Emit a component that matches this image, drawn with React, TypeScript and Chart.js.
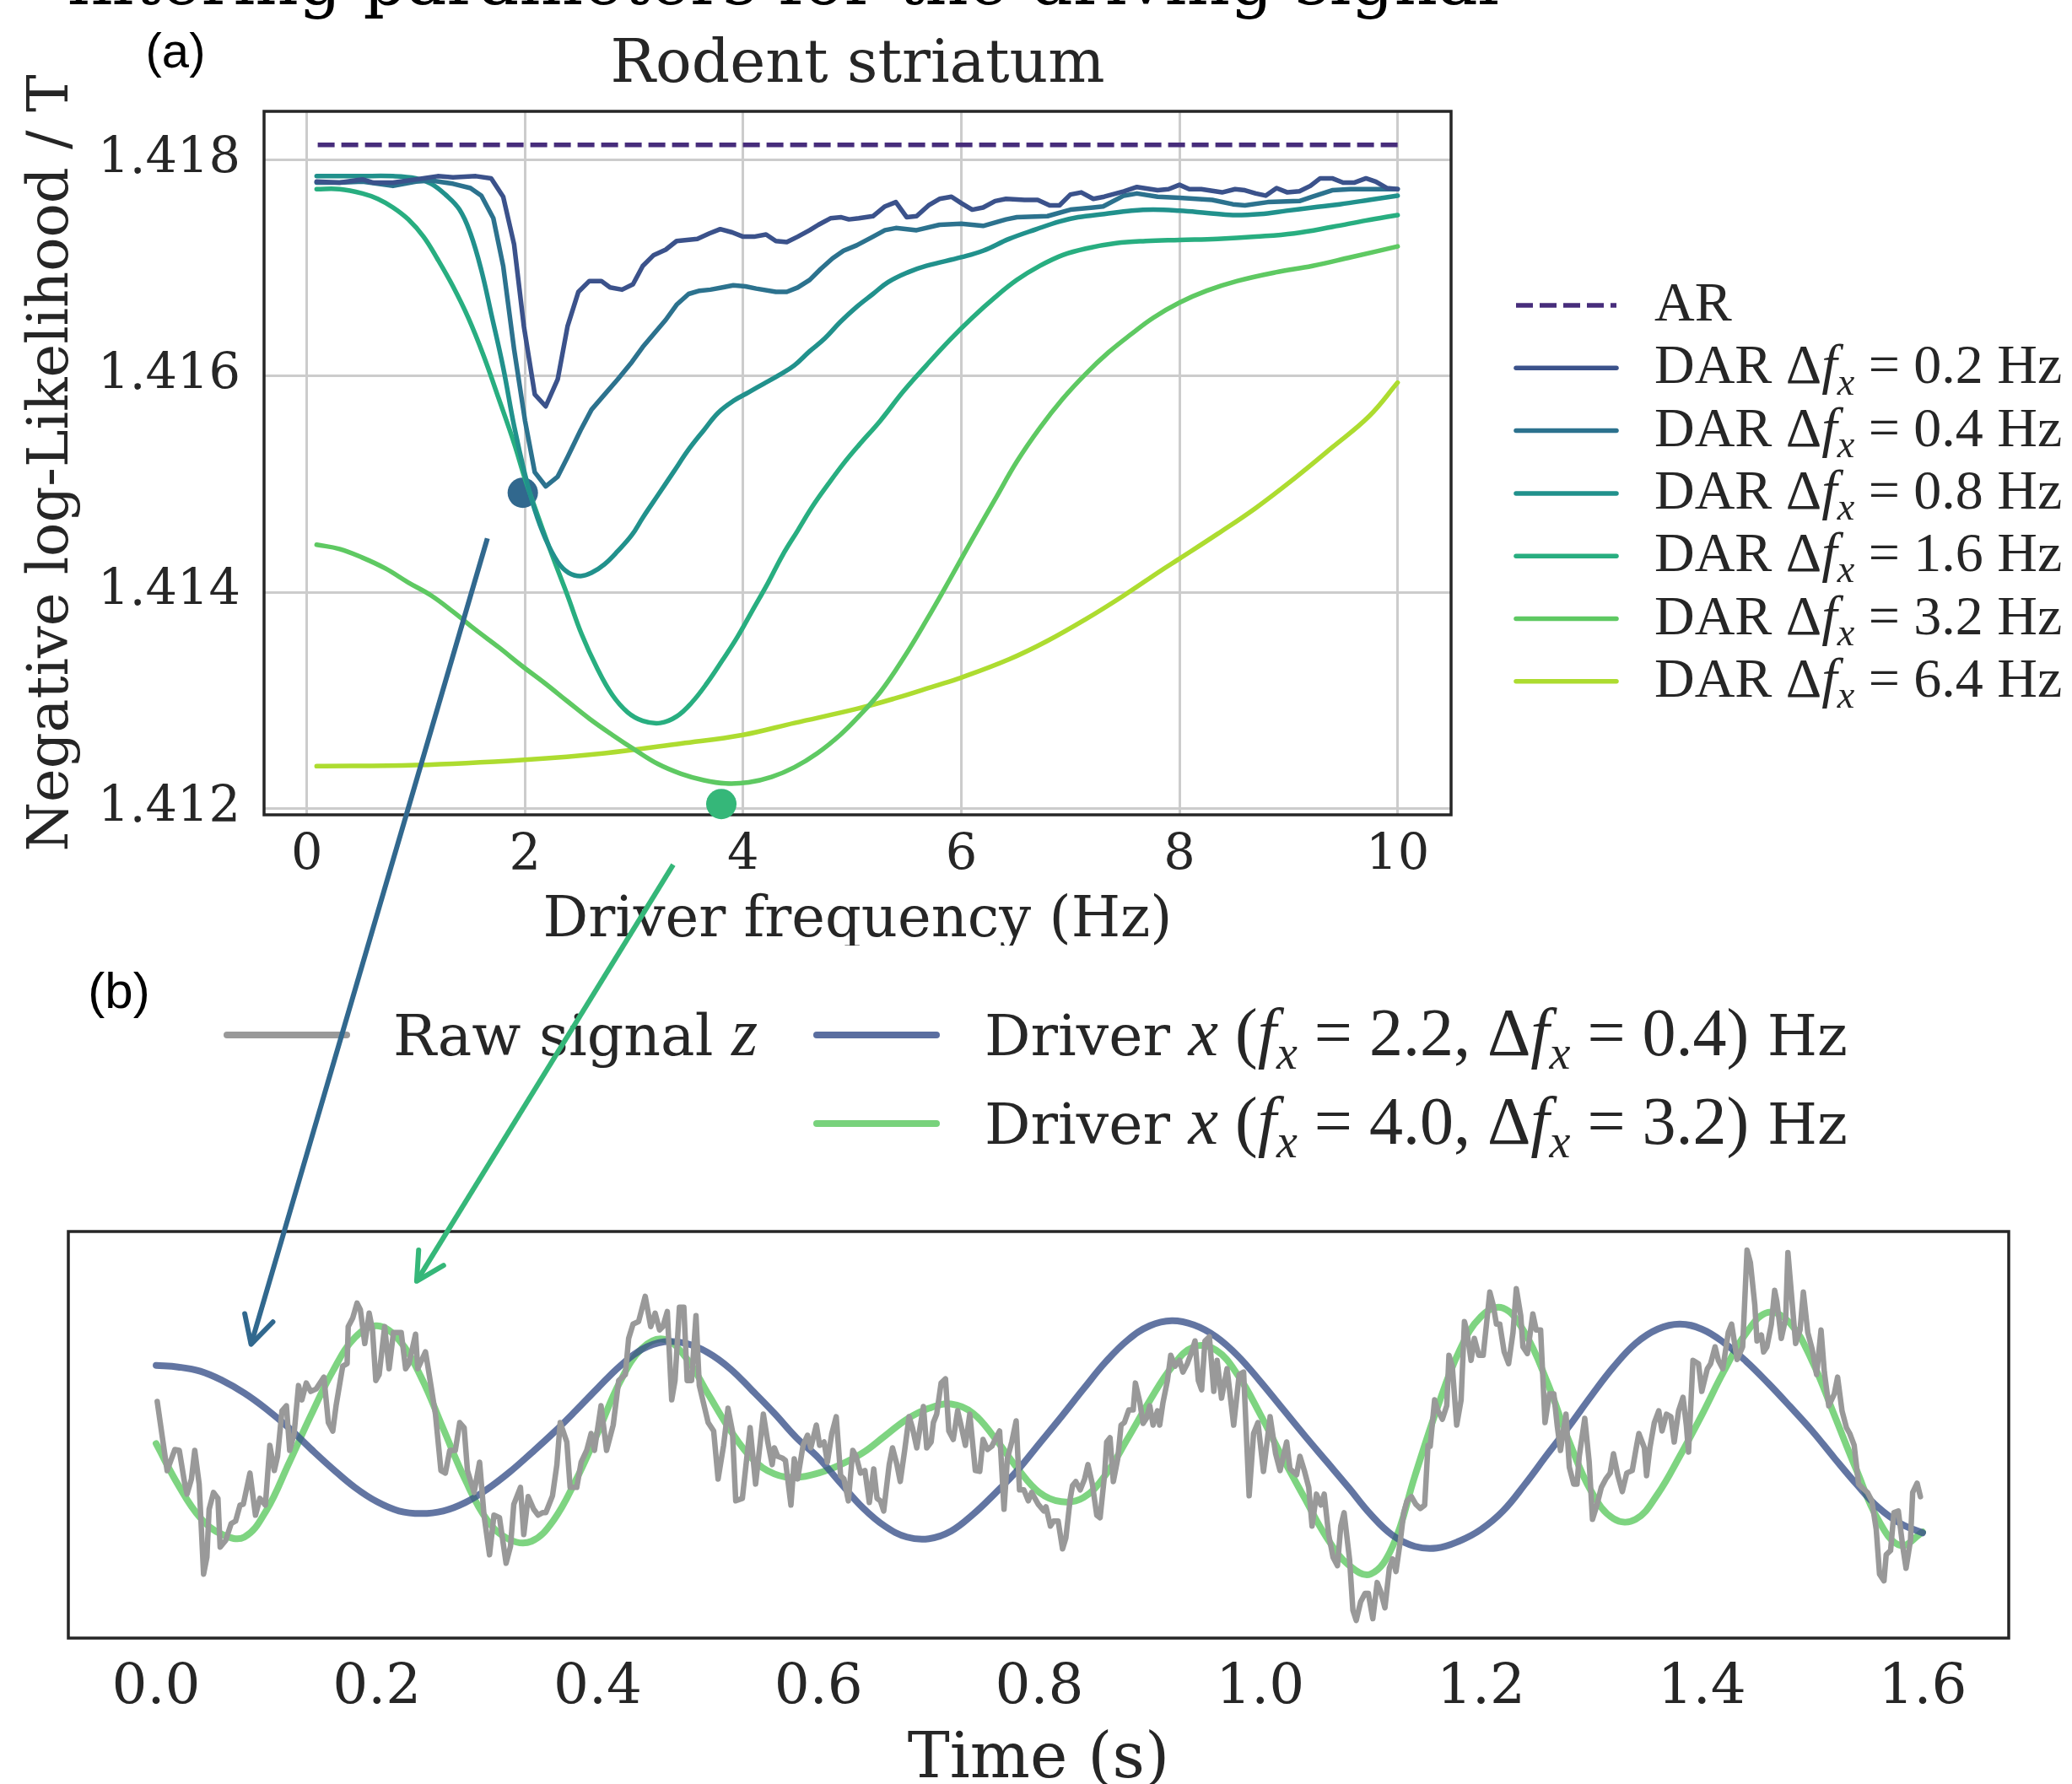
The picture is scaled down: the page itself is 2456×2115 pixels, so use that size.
import React, { useEffect, useRef } from "react";
import { Chart, registerables } from "chart.js";

Chart.register(...registerables);

const PAGE_W = 2456;
const PAGE_H = 2115;

// ---------- texts ----------
const figureHeading = "filtering parameters for the driving signal";
const panelATitle = "Rodent striatum";
const panelAXLabel = "Driver frequency (Hz)";
const panelAYLabel = "Negative log-Likelihood / T";
const panelBXLabel = "Time (s)";
const rawLabel = "Raw signal";

// ---------- panel (a) data ----------
const arNll = 1.41814;
const freqSpan = [0.1, 10];
const bandwidths = [0.2, 0.4, 0.8, 1.6, 3.2, 6.4];
const arColor = "#472d7b";
const darColors = ["#3b528b", "#2c728e", "#21918c", "#28ae80", "#5ec962", "#addc30"];
const aXTicks = [0, 2, 4, 6, 8, 10];
const aYTicks = [1.412, 1.414, 1.416, 1.418];

const dar02: [number, number][] = [
  [0.09, 1.4178], [0.3, 1.41779], [0.51, 1.41782], [0.61, 1.41779], [0.79, 1.41779], [1.0, 1.41782],
  [1.2, 1.41785], [1.34, 1.41784], [1.55, 1.41785], [1.69, 1.41783], [1.8, 1.41766], [1.9, 1.41722],
  [1.99, 1.41646], [2.09, 1.41583], [2.19, 1.41572], [2.3, 1.41597], [2.39, 1.41646], [2.49, 1.41678],
  [2.59, 1.41688], [2.7, 1.41688], [2.78, 1.41682], [2.89, 1.4168], [2.99, 1.41685], [3.08, 1.41702],
  [3.18, 1.41712], [3.29, 1.41717], [3.39, 1.41725], [3.58, 1.41727], [3.69, 1.41732], [3.79, 1.41736],
  [3.9, 1.41733], [4.0, 1.41729], [4.1, 1.41729], [4.21, 1.41731], [4.3, 1.41725], [4.4, 1.41724],
  [4.5, 1.41729], [4.61, 1.41735], [4.69, 1.4174], [4.8, 1.41746], [4.9, 1.41747], [4.97, 1.41745],
  [5.06, 1.41746], [5.19, 1.41748], [5.3, 1.41757], [5.4, 1.41761], [5.5, 1.41747], [5.59, 1.41748],
  [5.7, 1.41758], [5.8, 1.41764], [5.91, 1.41766], [6.0, 1.4176], [6.1, 1.41754], [6.2, 1.41756],
  [6.31, 1.41762], [6.41, 1.41764], [6.58, 1.41763], [6.7, 1.41763], [6.81, 1.41758], [6.9, 1.41758],
  [7.0, 1.41768], [7.1, 1.4177], [7.21, 1.41764], [7.31, 1.41766], [7.49, 1.41771], [7.61, 1.41775],
  [7.8, 1.41772], [7.9, 1.41773], [8.0, 1.41777], [8.09, 1.41773], [8.2, 1.41773], [8.39, 1.4177],
  [8.51, 1.41773], [8.6, 1.41772], [8.7, 1.41769], [8.79, 1.41767], [8.89, 1.41774], [8.99, 1.4177],
  [9.1, 1.41771], [9.2, 1.41776], [9.29, 1.41783], [9.4, 1.41783], [9.5, 1.41779], [9.6, 1.41779],
  [9.71, 1.41783], [9.8, 1.4178], [9.9, 1.41774], [10.0, 1.41773],
];
const dar04: [number, number][] = [
  [0.09, 1.41779], [0.3, 1.41779], [0.51, 1.4178], [0.79, 1.41776], [1.0, 1.4178], [1.14, 1.41781],
  [1.34, 1.41778], [1.5, 1.41774], [1.6, 1.41767], [1.71, 1.41746], [1.8, 1.41702], [1.9, 1.41625],
  [2.0, 1.41559], [2.09, 1.41511], [2.19, 1.41498], [2.3, 1.41507], [2.39, 1.41525], [2.51, 1.4155],
  [2.61, 1.41569], [2.73, 1.41583], [2.85, 1.41597], [2.98, 1.41613], [3.08, 1.41627], [3.18, 1.41639],
  [3.29, 1.41652], [3.39, 1.41666], [3.5, 1.41676], [3.6, 1.41679], [3.7, 1.4168], [3.81, 1.41682],
  [3.91, 1.41684], [4.02, 1.41683], [4.12, 1.41681], [4.3, 1.41678], [4.4, 1.41678], [4.5, 1.41682],
  [4.61, 1.41689], [4.71, 1.41699], [4.82, 1.41709], [4.92, 1.41716], [5.04, 1.41721], [5.19, 1.41729],
  [5.3, 1.41735], [5.4, 1.41737], [5.59, 1.41735], [5.8, 1.4174], [6.0, 1.41741], [6.2, 1.41739],
  [6.41, 1.41745], [6.51, 1.41747], [6.79, 1.41748], [7.0, 1.41754], [7.21, 1.41756], [7.3, 1.41757],
  [7.49, 1.41767], [7.61, 1.41769], [7.8, 1.41766], [8.0, 1.41765], [8.3, 1.41763], [8.49, 1.41759],
  [8.6, 1.41758], [8.81, 1.41761], [9.1, 1.41762], [9.22, 1.41766], [9.4, 1.41772], [9.57, 1.41773],
  [9.78, 1.41773], [10.0, 1.41773],
];
const dar08: [number, number][] = [
  [0.09, 1.41785], [0.48, 1.41785], [0.79, 1.41785], [1.0, 1.41783], [1.14, 1.41778], [1.27, 1.41768],
  [1.4, 1.41754], [1.5, 1.41732], [1.6, 1.41698], [1.69, 1.41658], [1.8, 1.41608], [1.9, 1.41554],
  [2.0, 1.41509], [2.09, 1.41476], [2.19, 1.41449], [2.3, 1.41428], [2.4, 1.41418], [2.51, 1.41415],
  [2.61, 1.41418], [2.73, 1.41426], [2.85, 1.41438], [2.98, 1.41453], [3.08, 1.41469], [3.22, 1.4149],
  [3.36, 1.41511], [3.5, 1.41532], [3.64, 1.4155], [3.77, 1.41566], [3.91, 1.41577], [4.05, 1.41585],
  [4.19, 1.41593], [4.33, 1.41601], [4.47, 1.4161], [4.61, 1.41623], [4.75, 1.41635], [4.89, 1.4165],
  [5.04, 1.41664], [5.19, 1.41676], [5.33, 1.41687], [5.51, 1.41696], [5.68, 1.41702], [6.0, 1.4171],
  [6.2, 1.41716], [6.44, 1.41727], [6.69, 1.41736], [6.9, 1.41743], [7.07, 1.41747], [7.31, 1.4175],
  [7.56, 1.41753], [7.76, 1.41754], [8.0, 1.41753], [8.25, 1.41751], [8.49, 1.41749], [8.74, 1.4175],
  [8.98, 1.41753], [9.22, 1.41756], [9.47, 1.41759], [9.74, 1.41763], [10.0, 1.41767],
];
const dar16: [number, number][] = [
  [0.09, 1.41773], [0.3, 1.41773], [0.51, 1.41769], [0.65, 1.41764], [0.79, 1.41756], [0.93, 1.41745],
  [1.07, 1.41729], [1.2, 1.41708], [1.34, 1.41683], [1.48, 1.41654], [1.62, 1.41619], [1.76, 1.41579],
  [1.9, 1.41538], [2.0, 1.41505], [2.11, 1.41473], [2.25, 1.41434], [2.39, 1.41397], [2.52, 1.41361],
  [2.66, 1.4133], [2.8, 1.41305], [2.94, 1.41289], [3.08, 1.41281], [3.24, 1.41279], [3.39, 1.41285],
  [3.53, 1.41298], [3.67, 1.41316], [3.81, 1.41337], [3.95, 1.41359], [4.09, 1.41384], [4.23, 1.41409],
  [4.36, 1.41434], [4.5, 1.41457], [4.64, 1.4148], [4.78, 1.415], [4.92, 1.41519], [5.06, 1.41536],
  [5.26, 1.41559], [5.47, 1.41586], [5.68, 1.4161], [5.89, 1.41633], [6.1, 1.41654], [6.31, 1.41673],
  [6.51, 1.41689], [6.72, 1.41702], [6.93, 1.41712], [7.14, 1.41718], [7.42, 1.41723], [7.69, 1.41725],
  [8.0, 1.41726], [8.35, 1.41727], [8.7, 1.41729], [9.05, 1.41732], [9.4, 1.41738], [9.71, 1.41744],
  [10.0, 1.41749],
];
const dar32: [number, number][] = [
  [0.09, 1.41444], [0.3, 1.4144], [0.51, 1.41432], [0.72, 1.41422], [0.93, 1.41409], [1.14, 1.41397],
  [1.34, 1.41382], [1.55, 1.41365], [1.76, 1.41349], [1.97, 1.41332], [2.18, 1.41316], [2.39, 1.41299],
  [2.59, 1.41283], [2.8, 1.41268], [3.01, 1.41254], [3.22, 1.41241], [3.43, 1.41232], [3.64, 1.41226],
  [3.84, 1.41223], [4.05, 1.41224], [4.26, 1.41229], [4.47, 1.41238], [4.68, 1.41251], [4.89, 1.41268],
  [5.05, 1.41284], [5.26, 1.41308], [5.47, 1.41339], [5.68, 1.41374], [5.89, 1.41411], [6.1, 1.41449],
  [6.31, 1.41486], [6.51, 1.41521], [6.72, 1.41552], [6.93, 1.41579], [7.14, 1.41602], [7.35, 1.41622],
  [7.56, 1.41639], [7.76, 1.41654], [8.0, 1.41668], [8.25, 1.41679], [8.53, 1.41688], [8.88, 1.41696],
  [9.22, 1.41702], [9.57, 1.4171], [10.0, 1.4172],
];
const dar64: [number, number][] = [
  [0.09, 1.41239], [1.0, 1.4124], [2.0, 1.41245], [2.73, 1.41251], [3.43, 1.4126], [4.0, 1.41268],
  [4.47, 1.41279], [5.04, 1.41292], [5.4, 1.41302], [5.75, 1.41313], [6.0, 1.41321], [6.44, 1.41338],
  [6.79, 1.41355], [7.14, 1.41375], [7.49, 1.41397], [7.83, 1.4142], [8.0, 1.41431], [8.35, 1.41454],
  [8.7, 1.41478], [9.05, 1.41505], [9.4, 1.41534], [9.74, 1.41563], [10.0, 1.41594],
];
const darSeries = [dar02, dar04, dar08, dar16, dar32, dar64];

const pickedFreq = [1.98, 3.8];
const pickedNll = [1.41492, 1.41204];
const pickedColors = ["#31688e", "#35b779"];

// ---------- panel (b) data ----------
const driverFreq = [2.2, 4.0];
const driverBandwidth = [0.4, 3.2];
const driverColors = ["rgba(59,82,139,0.8)", "rgba(94,201,98,0.8)"];
const legendDriverColors = ["#5a6ea0", "#78d27c"];
const rawColor = "#999999";
const driverStep = 0.02;
const bXTicks = [0, 0.2, 0.4, 0.6, 0.8, 1.0, 1.2, 1.4, 1.6];

const driverSlow = [
  0.82, 0.8, 0.75, 0.64, 0.49, 0.3, 0.08, -0.17, -0.41, -0.63,
  -0.8, -0.91, -0.94, -0.91, -0.81, -0.65, -0.45, -0.22, 0.02, 0.28,
  0.55, 0.81, 1.01, 1.1, 1.08, 0.97, 0.78, 0.52, 0.25, -0.04,
  -0.28, -0.58, -0.87, -1.09, -1.22, -1.24, -1.15, -0.95, -0.7, -0.43,
  -0.11, 0.21, 0.54, 0.86, 1.12, 1.29, 1.35, 1.3, 1.16, 0.93,
  0.63, 0.31, -0.01, -0.32, -0.63, -0.95, -1.2, -1.33, -1.35, -1.27,
  -1.13, -0.91, -0.59, -0.24, 0.1, 0.46, 0.8, 1.08, 1.25, 1.31,
  1.25, 1.09, 0.87, 0.61, 0.33, 0.04, -0.28, -0.59, -0.87, -1.06,
  -1.17,
];
const driverFast = [
  -0.11, -0.6, -0.99, -1.19, -1.22, -0.9, -0.35, 0.22, 0.75, 1.15,
  1.29, 1.12, 0.68, 0.07, -0.54, -1.02, -1.25, -1.27, -1.02, -0.55,
  0.02, 0.62, 1.02, 1.13, 0.91, 0.48, 0.05, -0.29, -0.47, -0.51,
  -0.46, -0.36, -0.22, -0.02, 0.18, 0.31, 0.36, 0.25, -0.05, -0.4,
  -0.69, -0.8, -0.75, -0.48, -0.05, 0.4, 0.8, 1.04, 1.0, 0.7,
  0.24, -0.27, -0.75, -1.22, -1.55, -1.66, -1.33, -0.5, 0.3, 0.98,
  1.4, 1.5, 1.2, 0.62, -0.09, -0.68, -1.0, -1.01, -0.71, -0.26,
  0.23, 0.75, 1.2, 1.45, 1.32, 0.87, 0.23, -0.42, -1.02, -1.32,
  -1.16,
];

// raw signal: [time (s), amplitude]
const rawSignal: [number, number][] = [
  [0.001, 0.39], [0.01, -0.43], [0.017, -0.18], [0.021, -0.19], [0.026, -0.59], [0.028, -0.71], [0.032, -0.53], [0.035, -0.19], [0.039, -0.59], [0.043, -1.66],
  [0.046, -1.46], [0.048, -0.89], [0.052, -0.69], [0.056, -0.76], [0.058, -1.34], [0.063, -1.26], [0.068, -1.06], [0.072, -1.03], [0.076, -0.84], [0.079, -0.83],
  [0.085, -0.46], [0.09, -0.96], [0.094, -0.76], [0.099, -0.84], [0.103, -0.13], [0.107, -0.43], [0.11, -0.26], [0.114, 0.28], [0.118, 0.34], [0.121, -0.19],
  [0.125, 0.01], [0.129, 0.58], [0.132, 0.41], [0.136, 0.61], [0.14, 0.51], [0.145, 0.54], [0.152, 0.68], [0.156, 0.14], [0.16, 0.04], [0.163, 0.34],
  [0.169, 0.81], [0.173, 0.84], [0.174, 1.28], [0.178, 1.38], [0.182, 1.56], [0.185, 1.48], [0.189, 1.08], [0.193, 1.44], [0.196, 1.24], [0.199, 0.64],
  [0.202, 0.71], [0.207, 1.28], [0.211, 0.78], [0.215, 1.21], [0.222, 1.21], [0.226, 0.78], [0.229, 0.84], [0.235, 1.19], [0.237, 0.78], [0.244, 0.98],
  [0.247, 0.74], [0.253, 0.24], [0.258, -0.43], [0.262, -0.46], [0.266, -0.19], [0.271, -0.19], [0.275, 0.14], [0.279, 0.08], [0.282, -0.43], [0.288, -0.69],
  [0.293, -0.33], [0.297, -0.96], [0.302, -1.43], [0.306, -0.96], [0.311, -0.99], [0.317, -1.53], [0.321, -1.33], [0.324, -0.83], [0.33, -0.63], [0.333, -1.19],
  [0.337, -0.74], [0.342, -0.89], [0.346, -0.96], [0.35, -0.93], [0.353, -0.93], [0.359, -0.73], [0.363, -0.36], [0.366, 0.14], [0.372, -0.09], [0.375, -0.63],
  [0.381, -0.63], [0.385, -0.33], [0.39, -0.19], [0.394, 0.01], [0.397, -0.19], [0.403, 0.34], [0.408, -0.19], [0.414, 0.11], [0.419, 0.64], [0.425, 0.71],
  [0.428, 1.14], [0.432, 1.31], [0.437, 1.34], [0.443, 1.64], [0.448, 1.28], [0.452, 1.44], [0.456, 1.24], [0.459, 1.28], [0.463, 1.46], [0.467, 0.41],
  [0.47, 0.64], [0.474, 1.51], [0.478, 1.51], [0.481, 0.64], [0.485, 0.64], [0.489, 1.41], [0.492, 0.58], [0.5, 0.14], [0.505, 0.04], [0.509, -0.53],
  [0.514, -0.13], [0.518, 0.31], [0.522, 0.04], [0.525, -0.79], [0.531, -0.76], [0.538, 0.08], [0.543, -0.59], [0.55, 0.24], [0.554, -0.09], [0.558, -0.36],
  [0.56, -0.16], [0.563, -0.26], [0.567, -0.28], [0.57, -0.31], [0.575, -0.84], [0.578, -0.29], [0.581, -0.53], [0.586, -0.13], [0.59, -0.01], [0.593, -0.16],
  [0.598, 0.11], [0.601, -0.13], [0.605, -0.09], [0.608, -0.33], [0.612, 0.01], [0.616, 0.21], [0.62, -0.49], [0.623, -0.53], [0.627, -0.79], [0.631, -0.19],
  [0.634, -0.26], [0.638, -0.46], [0.642, -0.43], [0.646, -0.81], [0.65, -0.41], [0.653, -0.76], [0.656, -0.79], [0.659, -0.91], [0.664, -0.36], [0.667, -0.16],
  [0.671, -0.36], [0.674, -0.56], [0.678, -0.19], [0.682, 0.21], [0.685, 0.08], [0.689, -0.16], [0.695, 0.33], [0.698, -0.16], [0.702, -0.09], [0.704, 0.14],
  [0.707, 0.24], [0.711, 0.61], [0.715, 0.66], [0.718, 0.04], [0.722, -0.06], [0.726, 0.28], [0.729, 0.11], [0.733, -0.13], [0.737, 0.24], [0.742, -0.43],
  [0.746, -0.44], [0.749, -0.06], [0.753, -0.18], [0.757, -0.14], [0.76, -0.06], [0.764, 0.04], [0.768, -0.89], [0.771, -0.29], [0.775, -0.09], [0.779, 0.16],
  [0.782, -0.66], [0.786, -0.66], [0.79, -0.79], [0.793, -0.69], [0.799, -0.83], [0.804, -0.91], [0.806, -0.86], [0.81, -1.09], [0.813, -1.03], [0.817, -1.03],
  [0.821, -1.36], [0.824, -1.23], [0.828, -0.76], [0.83, -0.61], [0.833, -0.56], [0.837, -0.66], [0.841, -0.53], [0.844, -0.36], [0.848, -0.59], [0.852, -0.96],
  [0.855, -0.99], [0.859, -0.49], [0.861, -0.09], [0.864, -0.04], [0.867, -0.56], [0.871, -0.29], [0.874, 0.11], [0.877, 0.14], [0.881, 0.29], [0.885, 0.29],
  [0.887, 0.61], [0.891, 0.38], [0.894, 0.13], [0.897, 0.19], [0.9, 0.34], [0.903, 0.11], [0.907, 0.28], [0.909, 0.11], [0.912, 0.38], [0.916, 0.64],
  [0.919, 0.94], [0.923, 0.81], [0.927, 0.88], [0.93, 0.74], [0.934, 0.84], [0.938, 0.98], [0.941, 1.11], [0.944, 0.64], [0.947, 0.53], [0.95, 1.11],
  [0.954, 1.16], [0.958, 0.51], [0.961, 0.88], [0.965, 0.43], [0.97, 0.78], [0.976, 0.11], [0.981, 0.71], [0.985, 0.74], [0.99, -0.73], [0.994, 0.01],
  [0.998, 0.14], [1.003, -0.44], [1.009, 0.21], [1.014, -0.23], [1.018, -0.43], [1.024, -0.09], [1.027, -0.41], [1.033, -0.48], [1.036, -0.26], [1.04, -0.43],
  [1.044, -0.63], [1.047, -1.09], [1.051, -0.71], [1.055, -0.84], [1.058, -0.71], [1.062, -1.19], [1.066, -1.46], [1.07, -1.56], [1.073, -1.09], [1.076, -0.93],
  [1.081, -1.49], [1.084, -2.09], [1.087, -2.21], [1.091, -1.99], [1.095, -1.89], [1.098, -1.89], [1.102, -2.19], [1.106, -1.76], [1.109, -1.86], [1.113, -2.06],
  [1.117, -1.59], [1.12, -1.48], [1.123, -1.63], [1.127, -1.26], [1.13, -0.93], [1.133, -0.79], [1.137, -0.74], [1.141, -0.83], [1.145, -0.88], [1.149, -0.84],
  [1.152, -0.13], [1.154, -0.14], [1.158, 0.41], [1.161, 0.28], [1.165, 0.18], [1.169, 0.34], [1.171, 0.94], [1.174, 0.81], [1.178, 0.11], [1.182, 0.41],
  [1.185, 1.34], [1.187, 1.24], [1.191, 0.88], [1.194, 1.14], [1.198, 0.94], [1.202, 0.94], [1.205, 1.31], [1.208, 1.69], [1.211, 1.54], [1.214, 1.31],
  [1.217, 1.31], [1.221, 0.98], [1.225, 0.84], [1.229, 1.21], [1.232, 1.73], [1.236, 1.41], [1.238, 1.04], [1.242, 0.96], [1.247, 1.43], [1.25, 1.24],
  [1.254, 1.24], [1.258, 0.14], [1.262, 0.48], [1.266, 0.48], [1.269, 0.11], [1.272, -0.19], [1.277, 0.24], [1.28, -0.39], [1.284, -0.59], [1.287, -0.59],
  [1.289, -0.26], [1.294, 0.19], [1.298, -0.33], [1.301, -1.01], [1.305, -0.84], [1.309, -0.63], [1.313, -0.53], [1.317, -0.46], [1.32, -0.23], [1.324, -0.49],
  [1.328, -0.68], [1.332, -0.46], [1.337, -0.43], [1.341, -0.13], [1.343, 0.01], [1.348, -0.16], [1.35, -0.49], [1.353, -0.16], [1.357, 0.14], [1.361, 0.28],
  [1.364, 0.04], [1.368, 0.24], [1.372, 0.21], [1.375, -0.09], [1.379, 0.28], [1.383, 0.44], [1.386, 0.11], [1.388, -0.21], [1.392, 0.88], [1.397, 0.84],
  [1.4, 0.51], [1.405, 0.78], [1.408, 0.84], [1.412, 1.04], [1.415, 0.88], [1.419, 0.78], [1.424, 1.21], [1.427, 1.31], [1.432, 0.89], [1.437, 1.04],
  [1.441, 2.19], [1.444, 2.04], [1.448, 1.54], [1.45, 1.11], [1.454, 1.18], [1.456, 0.98], [1.459, 1.04], [1.463, 1.31], [1.466, 1.71], [1.468, 1.58],
  [1.472, 1.14], [1.476, 1.38], [1.478, 2.16], [1.482, 1.54], [1.485, 1.08], [1.489, 1.24], [1.492, 1.69], [1.496, 1.21], [1.5, 1.01], [1.504, 0.71],
  [1.508, 1.24], [1.511, 0.74], [1.515, 0.34], [1.52, 0.48], [1.523, 0.68], [1.527, 0.28], [1.531, 0.08], [1.534, 0.01], [1.538, -0.13], [1.542, -0.59],
  [1.545, -0.63], [1.55, -0.69], [1.554, -0.79], [1.558, -1.13], [1.561, -1.66], [1.565, -1.74], [1.567, -1.43], [1.571, -1.38], [1.574, -0.93], [1.578, -0.91],
  [1.582, -1.33], [1.585, -1.59], [1.589, -1.26], [1.591, -0.69], [1.595, -0.58], [1.598, -0.74],
];

// arrow targets in panel (b) data coordinates
const arrowTipTime = [0.086, 0.236];
const arrowTipValue = [1.07, 1.82];

// ---------- helpers ----------
type Seg = { s: string; f: "text" | "rm" | "it"; sub?: boolean };
const TEXT_FONT = "'DejaVu Serif'";
const MATH_FONT = "'Liberation Serif'";
const INK = "#262626";

function drawRich(ctx: CanvasRenderingContext2D, segs: Seg[], x: number, y: number, textSize: number, mathSize: number) {
  let cx = x;
  ctx.textAlign = "left";
  ctx.textBaseline = "alphabetic";
  for (const g of segs) {
    const base = g.f === "text" ? textSize : mathSize;
    const size = g.sub ? base * 0.7 : base;
    const fam = g.f === "text" ? TEXT_FONT : MATH_FONT;
    ctx.font = `${g.f === "it" ? "italic " : ""}${size}px ${fam}`;
    ctx.fillText(g.s, cx, y + (g.sub ? base * 0.2 : 0));
    cx += ctx.measureText(g.s).width;
  }
  return cx - x;
}

function darSegs(bw: number): Seg[] {
  return [
    { s: "DAR Δ", f: "rm" },
    { s: "f", f: "it" },
    { s: "x", f: "it", sub: true },
    { s: " = ", f: "rm" },
    { s: bw.toFixed(1), f: "rm" },
    { s: " Hz", f: "rm" },
  ];
}

function driverSegs(fx: number, bw: number): Seg[] {
  return [
    { s: "Driver ", f: "text" },
    { s: "x", f: "it" },
    { s: " (", f: "rm" },
    { s: "f", f: "it" },
    { s: "x", f: "it", sub: true },
    { s: " = " + fx.toFixed(1) + ", Δ", f: "rm" },
    { s: "f", f: "it" },
    { s: "x", f: "it", sub: true },
    { s: " = " + bw.toFixed(1) + ")", f: "rm" },
    { s: " Hz", f: "text" },
  ];
}

function drawArrow(ctx: CanvasRenderingContext2D, x0: number, y0: number, x1: number, y1: number, color: string) {
  const ang = Math.atan2(y0 - y1, x0 - x1);
  const L = 37;
  const spread = (28 * Math.PI) / 180;
  ctx.save();
  ctx.strokeStyle = color;
  ctx.lineWidth = 6;
  ctx.lineCap = "butt";
  ctx.lineJoin = "round";
  ctx.beginPath();
  ctx.moveTo(x0, y0);
  ctx.lineTo(x1, y1);
  ctx.stroke();
  ctx.lineCap = "round";
  ctx.beginPath();
  ctx.moveTo(x1 + L * Math.cos(ang - spread), y1 + L * Math.sin(ang - spread));
  ctx.lineTo(x1, y1);
  ctx.lineTo(x1 + L * Math.cos(ang + spread), y1 + L * Math.sin(ang + spread));
  ctx.stroke();
  ctx.restore();
}

function frame(chart: any) {
  const { ctx, chartArea } = chart;
  ctx.save();
  ctx.strokeStyle = INK;
  ctx.lineWidth = 3.5;
  ctx.strokeRect(chartArea.left, chartArea.top, chartArea.right - chartArea.left, chartArea.bottom - chartArea.top);
  ctx.restore();
}

export default function App() {
  const aRef = useRef<HTMLCanvasElement>(null);
  const bRef = useRef<HTMLCanvasElement>(null);

  useEffect(() => {
    if (!aRef.current || !bRef.current) return;

    const decorA = {
      id: "decorA",
      beforeDatasetsDraw(chart: any) {
        frame(chart);
      },
      afterDraw(chart: any) {
        const ctx: CanvasRenderingContext2D = chart.ctx;
        ctx.save();
        // clipped heading at the top of the page
        ctx.fillStyle = "#000";
        ctx.font = `80px ${TEXT_FONT}`;
        ctx.textAlign = "left";
        ctx.textBaseline = "alphabetic";
        ctx.fillText(figureHeading, 80, 5);
        // panel tag
        ctx.font = "58px 'Liberation Sans'";
        ctx.textAlign = "center";
        ctx.textBaseline = "middle";
        ctx.fillText("(a)", 208, 64);
        // legend
        const entries = [
          { color: arColor, dash: [20, 8], segs: [{ s: "AR", f: "rm" }] as Seg[] },
          ...bandwidths.map((bw, i) => ({ color: darColors[i], dash: [] as number[], segs: darSegs(bw) })),
        ];
        entries.forEach((e, i) => {
          const y = 362 + i * 74.3;
          ctx.save();
          ctx.strokeStyle = e.color;
          ctx.lineWidth = 5.5;
          ctx.lineCap = e.dash.length ? "butt" : "round";
          ctx.setLineDash(e.dash);
          ctx.beginPath();
          ctx.moveTo(1797, y);
          ctx.lineTo(1916, y);
          ctx.stroke();
          ctx.restore();
          ctx.fillStyle = INK;
          drawRich(ctx, e.segs, 1961, y + 18, 66, 66);
        });
        ctx.restore();
      },
    };

    const datasetsA: any[] = [
      {
        label: "AR",
        data: freqSpan.map((f) => ({ x: f, y: arNll })),
        borderColor: arColor,
        borderWidth: 5.5,
        borderDash: [20, 8],
        pointRadius: 0,
        tension: 0,
      },
      ...darSeries.map((s, i) => ({
        label: `DAR Δf_x = ${bandwidths[i].toFixed(1)} Hz`,
        data: s.map(([x, y]) => ({ x, y })),
        borderColor: darColors[i],
        borderWidth: 5.5,
        pointRadius: 0,
        borderCapStyle: "round",
        borderJoinStyle: "round",
        tension: i >= 2 ? 0.4 : 0,
      })),
      {
        label: "picked",
        data: pickedFreq.map((f, i) => ({ x: f, y: pickedNll[i] })),
        showLine: false,
        pointRadius: 18,
        pointHoverRadius: 18,
        pointBorderWidth: 0,
        pointBackgroundColor: pickedColors,
        borderColor: "rgba(0,0,0,0)",
        clip: false,
      },
    ];

    const chartA = new Chart(aRef.current, {
      type: "line",
      data: { datasets: datasetsA },
      options: {
        animation: false,
        responsive: false,
        devicePixelRatio: 1,
        events: [],
        layout: { padding: { left: 0, right: PAGE_W - 1720, top: 0, bottom: 0 } },
        plugins: {
          legend: { display: false },
          tooltip: { enabled: false },
          title: {
            display: true,
            text: panelATitle,
            fullSize: false,
            color: INK,
            font: { family: "DejaVu Serif", size: 71, weight: "normal" },
            padding: { top: 36, bottom: 132 - 36 - 71 * 1.2 },
          },
        },
        scales: {
          x: {
            type: "linear",
            min: -0.392,
            max: 10.49,
            afterBuildTicks: (s: any) => {
              s.ticks = aXTicks.map((v) => ({ value: v }));
            },
            afterFit: (s: any) => {
              s.height = 1200 - 966;
            },
            grid: { color: "#cccccc", lineWidth: 3, drawTicks: false },
            border: { display: false },
            ticks: {
              color: INK,
              padding: 14,
              autoSkip: false,
              maxRotation: 0,
              font: { family: "DejaVu Serif", size: 59 },
              callback: (v: any) => String(v),
            },
            title: {
              display: true,
              text: panelAXLabel,
              color: INK,
              font: { family: "DejaVu Serif", size: 67 },
              padding: { top: 0, bottom: 67 },
            },
          },
          y: {
            type: "linear",
            min: 1.41194,
            max: 1.41845,
            afterBuildTicks: (s: any) => {
              s.ticks = aYTicks.map((v) => ({ value: v }));
            },
            afterFit: (s: any) => {
              s.width = 313;
            },
            grid: { color: "#cccccc", lineWidth: 3, drawTicks: false },
            border: { display: false },
            ticks: {
              color: INK,
              padding: 28,
              font: { family: "DejaVu Serif", size: 59 },
              callback: (v: any) => Number(v).toFixed(3),
            },
            title: {
              display: true,
              text: panelAYLabel,
              color: INK,
              font: { family: "DejaVu Serif", size: 67 },
              padding: { top: 22, bottom: 0 },
            },
          },
        },
      } as any,
      plugins: [decorA],
    });

    const arrowStartOffset = [
      [-42, 54],
      [-57, 72],
    ];

    const decorB = {
      id: "decorB",
      beforeDatasetsDraw(chart: any) {
        frame(chart);
      },
      afterDraw(chart: any) {
        const ctx: CanvasRenderingContext2D = chart.ctx;
        ctx.save();
        ctx.fillStyle = "#000";
        ctx.font = "60px 'Liberation Sans'";
        ctx.textAlign = "center";
        ctx.textBaseline = "middle";
        ctx.fillText("(b)", 141, 1178);

        // legend
        const rows = [
          { lx: 269, ly: 1227, tx: 466, color: rawColor, segs: [{ s: rawLabel + " ", f: "text" }, { s: "z", f: "it" }] as Seg[] },
          { lx: 968, ly: 1227, tx: 1167, color: legendDriverColors[0], segs: driverSegs(driverFreq[0], driverBandwidth[0]) },
          { lx: 968, ly: 1332, tx: 1167, color: legendDriverColors[1], segs: driverSegs(driverFreq[1], driverBandwidth[1]) },
        ];
        rows.forEach((r) => {
          ctx.save();
          ctx.strokeStyle = r.color;
          ctx.lineWidth = 8;
          ctx.lineCap = "round";
          ctx.beginPath();
          ctx.moveTo(r.lx, r.ly);
          ctx.lineTo(r.lx + 142, r.ly);
          ctx.stroke();
          ctx.restore();
          ctx.fillStyle = INK;
          drawRich(ctx, r.segs, r.tx, r.ly + 24, 68, 80);
        });

        // arrows from chosen points in (a) to the traces in (b)
        const sx = chartA.scales.x;
        const sy = chartA.scales.y;
        const bx = chart.scales.x;
        const by = chart.scales.y;
        pickedFreq.forEach((f, i) => {
          const px = sx.getPixelForValue(f) + arrowStartOffset[i][0];
          const py = sy.getPixelForValue(pickedNll[i]) + arrowStartOffset[i][1];
          const tx = bx.getPixelForValue(arrowTipTime[i]);
          const ty = by.getPixelForValue(arrowTipValue[i]);
          drawArrow(ctx, px, py, tx, ty, pickedColors[i]);
        });
        ctx.restore();
      },
    };

    const driverPoints = (vals: number[]) => vals.map((v, i) => ({ x: i * driverStep, y: v }));

    const chartB = new Chart(bRef.current, {
      type: "line",
      data: {
        datasets: [
          {
            label: rawLabel,
            data: rawSignal.map(([x, y]) => ({ x, y })),
            borderColor: rawColor,
            borderWidth: 6.5,
            pointRadius: 0,
            tension: 0,
            borderJoinStyle: "round",
            borderCapStyle: "round",
          },
          {
            label: `Driver fx=${driverFreq[0]}`,
            data: driverPoints(driverSlow),
            borderColor: driverColors[0],
            borderWidth: 8,
            pointRadius: 0,
            tension: 0.4,
            borderCapStyle: "round",
          },
          {
            label: `Driver fx=${driverFreq[1]}`,
            data: driverPoints(driverFast),
            borderColor: driverColors[1],
            borderWidth: 8,
            pointRadius: 0,
            tension: 0.4,
            borderCapStyle: "round",
          },
        ] as any[],
      },
      options: {
        animation: false,
        responsive: false,
        devicePixelRatio: 1,
        events: [],
        layout: { padding: { left: 81, right: PAGE_W - 2381, top: 1460, bottom: 0 } },
        plugins: { legend: { display: false }, tooltip: { enabled: false }, title: { display: false } },
        scales: {
          x: {
            type: "linear",
            min: -0.0795,
            max: 1.678,
            afterBuildTicks: (s: any) => {
              s.ticks = bXTicks.map((v) => ({ value: v }));
            },
            afterFit: (s: any) => {
              s.height = 2200 - 1942;
            },
            grid: { display: false, drawTicks: false },
            border: { display: false },
            ticks: {
              color: INK,
              padding: 20,
              autoSkip: false,
              maxRotation: 0,
              font: { family: "DejaVu Serif", size: 66 },
              callback: (v: any) => Number(v).toFixed(1),
            },
            title: {
              display: true,
              text: panelBXLabel,
              color: INK,
              font: { family: "DejaVu Serif", size: 75 },
              padding: { top: 0, bottom: 67 },
            },
          },
          y: { type: "linear", display: false, min: -2.42, max: 2.41 },
        },
      } as any,
      plugins: [decorB],
    });

    return () => {
      chartB.destroy();
      chartA.destroy();
    };
  }, []);

  return (
    <div style={{ position: "absolute", left: 0, top: 0, width: PAGE_W, height: PAGE_H, overflow: "hidden", background: "#ffffff" }}>
      <div style={{ position: "absolute", left: 0, top: 0, width: PAGE_W, height: 1121, overflow: "hidden" }}>
        <canvas ref={aRef} width={PAGE_W} height={1200} style={{ display: "block", width: PAGE_W, height: 1200 }} />
      </div>
      <canvas
        ref={bRef}
        width={PAGE_W}
        height={2200}
        style={{ position: "absolute", left: 0, top: 0, display: "block", width: PAGE_W, height: 2200 }}
      />
    </div>
  );
}
